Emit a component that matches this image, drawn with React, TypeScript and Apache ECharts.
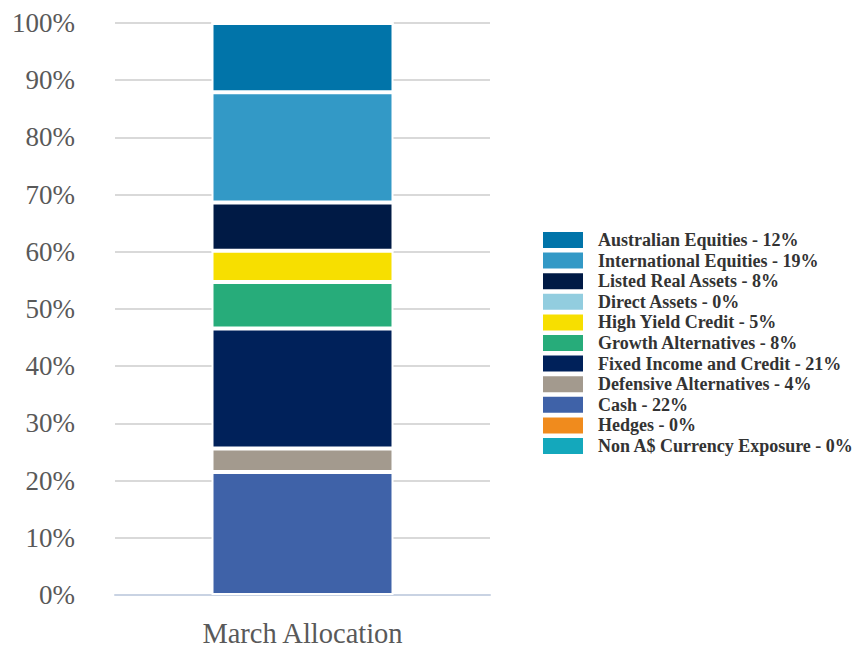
import React, { useEffect, useRef } from "react";
import * as echarts from "echarts";

const categories = ["March Allocation"];
const seriesNames = [
  "Cash - 22%",
  "Defensive Alternatives - 4%",
  "Fixed Income and Credit - 21%",
  "Growth Alternatives - 8%",
  "High Yield Credit - 5%",
  "Direct Assets - 0%",
  "Listed Real Assets - 8%",
  "International Equities - 19%",
  "Australian Equities - 12%",
  "Hedges - 0%",
  "Non A$ Currency Exposure - 0%",
];
const seriesValues = [21.5, 4.1, 21.0, 8.1, 5.5, 0, 8.4, 19.3, 12.1, 0, 0];
const seriesColors = [
  "#3F62A8",
  "#A39A8E",
  "#00215A",
  "#27AC7A",
  "#F7DF00",
  "#92CDDF",
  "#001A45",
  "#3399C6",
  "#0174A9",
  "#F08B1D",
  "#14A8BC",
];
const legendOrder = [
  "Australian Equities - 12%",
  "International Equities - 19%",
  "Listed Real Assets - 8%",
  "Direct Assets - 0%",
  "High Yield Credit - 5%",
  "Growth Alternatives - 8%",
  "Fixed Income and Credit - 21%",
  "Defensive Alternatives - 4%",
  "Cash - 22%",
  "Hedges - 0%",
  "Non A$ Currency Exposure - 0%",
];

const SERIF = "'Liberation Serif', 'Times New Roman', 'DejaVu Serif', serif";

export default function App() {
  const ref = useRef<HTMLDivElement>(null);
  useEffect(() => {
    if (!ref.current) return;
    const chart = echarts.init(ref.current, null, { renderer: "svg" });
    chart.setOption({
      animation: false,
      backgroundColor: "#ffffff",
      textStyle: { fontFamily: SERIF },
      grid: { left: 115, right: 369, top: 23, bottom: 51, containLabel: false },
      legend: {
        data: legendOrder,
        orient: "vertical",
        left: 541,
        top: 230,
        padding: 0,
        itemWidth: 42,
        itemHeight: 18,
        itemGap: 0.6,
        icon: "rect",
        textStyle: {
          fontFamily: SERIF,
          fontWeight: "bold",
          fontSize: 18,
          color: "#333333",
          padding: [0, 0, 0, 9],
        },
      },
      xAxis: {
        type: "category",
        data: categories,
        axisLine: { lineStyle: { color: "#C9D3E3", width: 2 } },
        axisTick: { show: false },
        axisLabel: {
          fontFamily: SERIF,
          fontSize: 28.5,
          color: "#595959",
          margin: 24,
        },
      },
      yAxis: {
        type: "value",
        min: 0,
        max: 100,
        interval: 10,
        axisLine: { show: false },
        axisTick: { show: false },
        splitLine: { lineStyle: { color: "#D9D9D9", width: 2 } },
        axisLabel: {
          formatter: "{value}%",
          fontFamily: SERIF,
          fontSize: 27,
          color: "#595959",
          margin: 40,
        },
      },
      series: seriesNames.map((name, i) => ({
        name,
        type: "bar",
        stack: "total",
        barWidth: 182,
        data: [seriesValues[i]],
        itemStyle: {
          color: seriesColors[i],
          borderColor: "#ffffff",
          borderWidth: 2,
        },
      })),
    });
    return () => chart.dispose();
  }, []);
  return (
    <div
      ref={ref}
      style={{ position: "fixed", left: 0, top: 0, width: 859, height: 648 }}
    />
  );
}
